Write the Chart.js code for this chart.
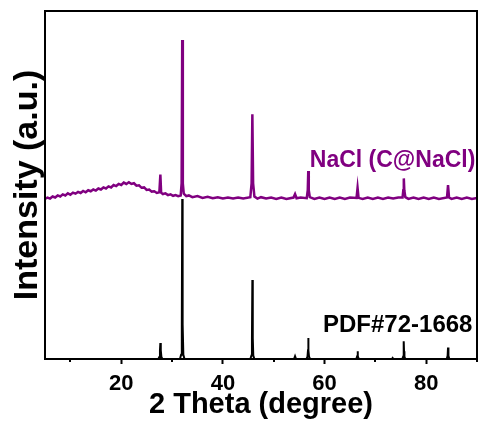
<!DOCTYPE html>
<html>
<head>
<meta charset="utf-8">
<script src="https://cdn.jsdelivr.net/npm/chart.js@4"></script>
<style>
  html, body { margin: 0; padding: 0; background: #fff; }
  #wrap { width: 481px; height: 425px; position: relative; }
</style>
</head>
<body>
<div id="wrap"><canvas id="xrd"></canvas></div>
<script>
// ---------- data ----------
const xMajorTicks = [20, 40, 60, 80];
const xMinorTicks = [10, 30, 50, 70, 90];
const traceNames = ['NaCl (C@NaCl)', 'PDF#72-1668'];

// standard pattern PDF#72-1668 : [2theta, intensity]
const refPattern = [
    [5, 0],
    [27.3, 0], [27.5, 0.6], [27.62, 2.5], [27.7, 4.6], [27.78, 2.5], [27.9, 0.6], [28.1, 0],
    [31.55, 0], [31.78, 1.2], [31.92, 10], [32.0, 46], [32.08, 10], [32.22, 1.2], [32.45, 0],
    [45.4, 0], [45.62, 1], [45.72, 6], [45.8, 22.7], [45.88, 6], [45.98, 1], [46.2, 0],
    [54.0, 0], [54.2, 0.8], [54.4, 0],
    [56.45, 0], [56.65, 0.7], [56.75, 2.5], [56.8, 6], [56.85, 2.5], [56.95, 0.7], [57.15, 0],
    [66.25, 0], [66.42, 0.8], [66.5, 2.2], [66.58, 0.8], [66.75, 0],
    [73.25, 0], [73.4, 0.3], [73.55, 0],
    [75.3, 0], [75.48, 0.7], [75.56, 2.2], [75.6, 5.1], [75.64, 2.2], [75.72, 0.7], [75.9, 0],
    [84.05, 0], [84.22, 0.9], [84.3, 3.3], [84.38, 0.9], [84.55, 0],
    [90, 0]
];

// measured C@NaCl pattern (offset upward) : [2theta, intensity]
const samplePattern = [
    [5, 46.0], [5.5, 46.4], [6, 46.1], [6.5, 46.7], [7, 46.4], [7.5, 47.0], [8, 46.7], [8.5, 47.3],
    [9, 47.0], [9.5, 47.6], [10, 47.2], [10.5, 47.8], [11, 47.5], [11.5, 48.0], [12, 47.7], [12.5, 48.3],
    [13, 47.9], [13.5, 48.5], [14, 48.2], [14.5, 48.7], [15, 48.4], [15.5, 49.0], [16, 48.7], [16.5, 49.3],
    [17, 49.0], [17.5, 49.6], [18, 49.3], [18.5, 50.0], [19, 49.7], [19.5, 50.3], [20, 50.0], [20.5, 50.7],
    [21, 50.3], [21.5, 50.8], [22, 50.3], [22.5, 50.5], [23, 49.8], [23.5, 49.9], [24, 49.2], [24.5, 49.3],
    [25, 48.6], [25.5, 48.7], [26, 48.1], [26.5, 48.2], [27, 47.7], [27.5, 47.9], [27.7, 53.0], [27.85, 47.8],
    [28.2, 47.4], [28.7, 47.6], [29.2, 47.1], [29.7, 47.3], [30.2, 46.9], [30.7, 47.1], [31.2, 46.8], [31.7, 47.0],
    [31.88, 50.5], [32.0, 91.7], [32.12, 50.5], [32.3, 47.5], [32.8, 46.8], [33.3, 47.0], [34, 46.5], [35, 46.8],
    [36, 46.3], [37, 46.6], [38, 46.2], [39, 46.5], [40, 46.1], [41, 46.4], [42, 46.1], [43, 46.4], [44, 46.1],
    [45.4, 46.5], [45.65, 50.5], [45.8, 70.3], [45.95, 50.5], [46.2, 46.7], [46.8, 46.1], [47.5, 46.5],
    [48.5, 46.1], [49.5, 46.4], [50.5, 46.0], [51.5, 46.4], [52.5, 46.0], [53.9, 46.4], [54.2, 47.4], [54.5, 46.2],
    [55.3, 46.4], [56.5, 46.2], [56.7, 48.5], [56.8, 54.0], [56.9, 48.5], [57.1, 46.5], [58, 46.0], [59, 46.4],
    [60, 46.0], [61, 46.4], [62, 46.0], [63, 46.4], [64, 46.0], [65, 46.4], [66.3, 46.3], [66.5, 49.2],
    [66.7, 46.3], [67.5, 46.0], [68.5, 46.4], [69.5, 46.0], [70.5, 46.4], [71.5, 46.0], [72.5, 46.4],
    [73.5, 46.1], [74.5, 46.4], [75.35, 46.4], [75.5, 48.5], [75.6, 51.9], [75.7, 48.5], [75.9, 46.5],
    [76.5, 46.0], [77.5, 46.4], [78.5, 46.0], [79.5, 46.4], [80.5, 46.0], [81.5, 46.4], [82.5, 46.0],
    [84.1, 46.4], [84.3, 50.0], [84.5, 46.4], [85, 46.0], [86, 46.4], [87, 46.0], [88, 46.4], [89, 46.0],
    [90, 46.3]
];

const FONT = "'Liberation Sans', Arial, sans-serif";
const PURPLE = '#800080';

// ---- frame, minor ticks and trace labels ----
const framePlugin = {
    id: 'frame',
    afterDatasetsDraw(chart) {
        const { ctx, chartArea: a, scales: { x, y } } = chart;
        ctx.save();
        ctx.strokeStyle = '#000';
        ctx.lineWidth = 2;
        ctx.strokeRect(a.left, a.top, a.right - a.left, a.bottom - a.top);

        // short minor ticks, pointing outward
        ctx.beginPath();
        xMinorTicks.forEach((v) => {
            const px = Math.round(x.getPixelForValue(v));
            ctx.moveTo(px, a.bottom);
            ctx.lineTo(px, a.bottom + 3);
        });
        ctx.stroke();

        // trace names
        ctx.font = `bold 23px ${FONT}`;
        ctx.textBaseline = 'alphabetic';
        ctx.fillStyle = PURPLE;
        ctx.fillText(traceNames[0], x.getPixelForValue(57.1), y.getPixelForValue(55.2));
        ctx.font = `bold 24px ${FONT}`;
        ctx.fillStyle = '#000';
        ctx.fillText(traceNames[1], x.getPixelForValue(59.7), y.getPixelForValue(7.8));
        ctx.restore();
    }
};

const toPoints = (arr) => arr.map(([px, py]) => ({ x: px, y: py }));

new Chart(document.getElementById('xrd'), {
    type: 'scatter',
    data: {
        datasets: [
            {
                label: traceNames[0],
                data: toPoints(samplePattern),
                showLine: true,
                borderColor: PURPLE,
                borderWidth: 2.5,
                pointRadius: 0,
                tension: 0
            },
            {
                label: traceNames[1],
                data: toPoints(refPattern),
                showLine: true,
                borderColor: '#000',
                borderWidth: 2,
                pointRadius: 0,
                tension: 0
            }
        ]
    },
    options: {
        responsive: true,
        maintainAspectRatio: false,
        animation: false,
        layout: { padding: { top: 11, right: 4, left: 0, bottom: 0 } },
        plugins: {
            legend: { display: false },
            tooltip: { enabled: false }
        },
        scales: {
            x: {
                type: 'linear',
                min: 5,
                max: 90,
                afterBuildTicks: (s) => { s.ticks = xMajorTicks.map((v) => ({ value: v })); },
                afterFit: (s) => { s.height = 66; },
                border: { display: false },
                grid: {
                    drawOnChartArea: false,
                    drawTicks: true,
                    tickLength: 5,
                    tickWidth: 2,
                    color: '#000'
                },
                ticks: {
                    color: '#000',
                    padding: 7,
                    maxRotation: 0,
                    font: { family: FONT, size: 22, weight: 'bold' }
                },
                title: {
                    display: true,
                    text: '2 Theta (degree)',
                    color: '#000',
                    padding: { top: 0, bottom: 6 },
                    font: { family: FONT, size: 29, weight: 'bold', lineHeight: 1 }
                }
            },
            y: {
                min: 0,
                max: 100,
                afterFit: (s) => { s.width = 45; },
                border: { display: false },
                grid: { display: false },
                ticks: { display: false },
                title: {
                    display: true,
                    text: 'Intensity (a.u.)',
                    color: '#000',
                    padding: { top: 11, bottom: 0 },
                    font: { family: FONT, size: 34, weight: 'bold', lineHeight: 1 }
                }
            }
        }
    },
    plugins: [framePlugin]
});
</script>
</body>
</html>
